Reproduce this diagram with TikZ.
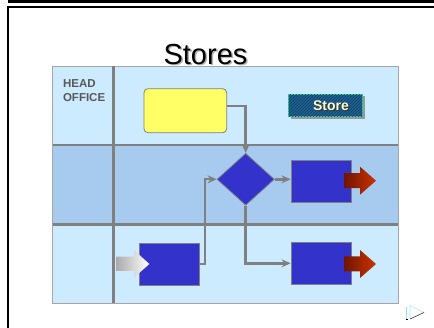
\documentclass[tikz,border=0pt]{standalone}
\usepackage{fontspec}
\setmainfont{Liberation Sans}
\usetikzlibrary{shapes.geometric,arrows.meta,patterns}
\definecolor{lane}{HTML}{CCEBFF}
\definecolor{laneb}{HTML}{A6CBEF}
\definecolor{grid}{HTML}{808080}
\definecolor{boxblue}{HTML}{3333CC}
\definecolor{yel}{HTML}{FFFF66}
\definecolor{btn}{HTML}{1E6090}
\definecolor{btnline}{HTML}{134468}
\definecolor{btnedge}{HTML}{33CC99}
\definecolor{redd}{HTML}{6E1500}
\definecolor{redl}{HTML}{CC3300}
\begin{document}
\begin{tikzpicture}[x=1pt,y=-1pt,
  procbox/.style={draw=grid,line width=0.8pt,fill=boxblue,minimum width=60pt,minimum height=42pt,inner sep=0pt},
  flow/.style={draw=grid,line width=2.5pt,-{Stealth[length=9pt,width=8pt,inset=3pt]}},
  thinflow/.style={draw=grid,line width=1.6pt,-{Stealth[length=9pt,width=8pt,inset=3pt]}}]
\useasboundingbox (0,0) rectangle (434,328);
\fill[white] (0,0) rectangle (434,328);
% slide frame
\fill[black] (8,0) rectangle (434,3.3);
\fill[black] (7,6) rectangle (434,8);
\fill[black] (7,6) rectangle (9,328);
% title
\node[text=gray!60,font=\fontsize{29}{30}\selectfont,anchor=base] at (207,65.5) {Stores};
\node[text=black,font=\fontsize{29}{30}\selectfont,anchor=base] (title) at (205.5,64.5) {Stores};
% lanes
\fill[lane] (52.7,66) rectangle (398,303.3);
\fill[laneb] (52.7,145) rectangle (398,224.3);
\draw[gray!70,line width=0.8pt] (52.7,66) rectangle (398,303.3);
\draw[grid,line width=2.5pt] (52.7,145) -- (398,145);
\draw[grid,line width=2.5pt] (52.7,224.3) -- (398,224.3);
\draw[grid,line width=2.5pt] (113.3,66) -- (113.3,303.3);
% lane label
\node[anchor=base west,font=\bfseries\fontsize{11.5}{14.4}\selectfont,text=black!65,align=left] (hl) at (59.5,101.7) {HEAD\\OFFICE};
% yellow box
\node[draw=grid,line width=0.8pt,fill=yel,rounded corners=4pt,minimum width=82.7pt,minimum height=44pt,inner sep=0pt] (yb) at (185.3,110.7) {};
% store button
\fill[gray!80] (290.5,96.5) rectangle (365,119);
\node[draw=btnedge,line width=0.8pt,fill=btn,minimum width=74.4pt,minimum height=22.4pt,inner sep=0pt] (sb) at (325.5,105.5) {};
\fill[pattern=north east lines,pattern color=btnline] (288.7,94.7) rectangle (362.3,116.3);
\node[font=\bfseries\fontsize{14}{16}\selectfont,text=black!80] at (332,106.5) {Store};
\node[font=\bfseries\fontsize{14}{16}\selectfont,text=yellow!20] (st) at (331,105.5) {Store};
% diamond
\node[draw=grid,line width=0.8pt,fill=boxblue,diamond,minimum width=57.4pt,minimum height=52pt,inner sep=0pt] (dm) at (245.7,179.3) {};
% boxes
\node[procbox] (b1) at (321,181.2) {};
\node[procbox] (b2) at (321,263.9) {};
\node[procbox] (b0) at (169.7,264) {};
% connectors
\coordinate (c1) at (245.7,106);
\draw[flow] (yb.east |- c1) -- (c1) -- (dm.north);
\coordinate (c2) at (205,264);
\coordinate (c3) at (205,179.3);
\draw[thinflow] (b0.east |- c2) -- (c2) -- (c3) -- (dm.west);
\draw[flow] (dm.east) -- (b1.west |- dm.east);
\coordinate (c4) at (245.7,263.3);
\draw[flow] (dm.south) -- (c4) -- (b2.west |- c4);
% red arrows
\foreach \yy in {180.7,264} {
  \shade[left color=redd,right color=redl] (344,\yy-7.5) -- (360,\yy-7.5) -- (360,\yy-14) -- (376,\yy) -- (360,\yy+14) -- (360,\yy+7.5) -- (344,\yy+7.5) -- cycle;
}
% gray entry arrow
\shade[left color=gray!65,right color=white] (116.7,256.7) -- (134,256.7) -- (134,250) -- (149.3,264) -- (134,277.7) -- (134,271) -- (116.7,271) -- cycle;
% nav icon
\draw[cyan!40,line width=0.8pt] (406,307) -- (406,319);
\draw[black,line width=0.8pt] (405.5,319.5) -- (407.5,319.5);
\draw[cyan!30,line width=0.6pt] (410,319) -- (410,305.5) -- (424,312.5);
\draw[black!80,line width=0.6pt] (424,312.5) -- (410,319);
\end{tikzpicture}
\end{document}
